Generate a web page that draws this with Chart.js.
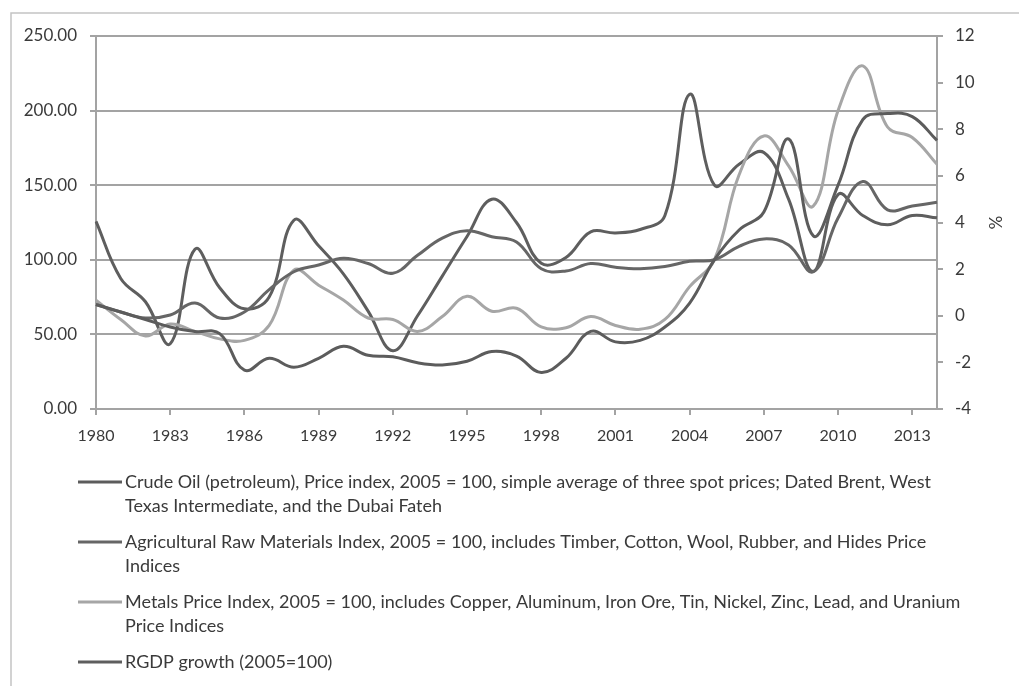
<!DOCTYPE html>
<html>
<head>
<meta charset="utf-8">
<title>Commodity price indices and RGDP growth, 1980-2014</title>
<script src="https://cdn.jsdelivr.net/npm/chart.js@4.4.1/dist/chart.umd.min.js"></script>
<style>
  html, body { margin: 0; padding: 0; background: #ffffff; }
  canvas { display: block; }
</style>
</head>
<body>
<canvas id="chart" width="1019" height="686"></canvas>
<script>
// Years on the category axis
const years = [
  '1980','1981','1982','1983','1984','1985','1986','1987','1988','1989',
  '1990','1991','1992','1993','1994','1995','1996','1997','1998','1999',
  '2000','2001','2002','2003','2004','2005','2006','2007','2008','2009',
  '2010','2011','2012','2013','2014'
];

// Price indices, 2005 = 100 (left axis)
const crudeOil = [
  70, 65, 60, 55, 52, 50.5, 26, 34, 28, 34,
  42, 36, 35, 31, 29.5, 32, 38.5, 35.5, 24.5, 34,
  52, 45, 46, 55, 71, 100, 120, 132, 181, 116,
  150, 194, 198, 196, 180
];
const agriRawMaterials = [
  70, 65, 61, 63, 71, 61, 65, 80, 92, 96.5,
  101, 97.5, 91, 103, 114.5, 119.5, 115.5, 112, 94, 92.5,
  97.5, 95, 94, 95.5, 99, 100, 109, 114, 110, 92,
  128, 152.5, 133.5, 136, 138.5
];
const metals = [
  73, 60, 49, 57, 52, 47, 46, 56, 93, 83,
  73, 61, 60, 52, 62, 75.5, 65.5, 67.5, 55, 54.5,
  62, 56, 53.5, 60, 82, 100, 157, 183, 163, 136,
  200, 230, 189, 182, 164
];

// Real GDP growth, % (right axis)
const rgdpGrowth = [
  4.05, 1.6, 0.6, -1.2, 2.85, 1.2, 0.3, 0.8, 4.1, 3.0,
  1.8, 0.2, -1.5, 0.0, 1.7, 3.4, 5.0, 4.0, 2.25, 2.5,
  3.6, 3.55, 3.7, 4.3, 9.5, 5.6, 6.5, 7.0, 5.0, 1.9,
  5.2, 4.3, 3.9, 4.3, 4.2
];

// Axis ranges and tick steps
const leftAxisRange = [0, 250, 50];
const rightAxisRange = [-4, 12, 2];
const yearLabelEvery = 3;

// Series names, split into the lines shown in the legend
const seriesLabels = [
  ['Crude Oil (petroleum), Price index, 2005 = 100, simple average of three spot prices; Dated Brent, West',
   'Texas Intermediate, and the Dubai Fateh'],
  ['Agricultural Raw Materials Index, 2005 = 100, includes Timber, Cotton, Wool, Rubber, and Hides Price',
   'Indices'],
  ['Metals Price Index, 2005 = 100, includes Copper, Aluminum, Iron Ore, Tin, Nickel, Zinc, Lead, and Uranium',
   'Price Indices'],
  ['RGDP growth (2005=100)']
];

const FONT = "Lato, 'Open Sans', 'Liberation Sans', sans-serif";
const TEXT = '#3a3a3a';
const AXIS = '#a3a3a3';

// White background and the outer frame of the chart area
const framePlugin = {
  id: 'frame',
  beforeDraw(chart) {
    const ctx = chart.ctx;
    ctx.save();
    ctx.fillStyle = '#ffffff';
    ctx.fillRect(0, 0, chart.width, chart.height);
    ctx.strokeStyle = '#c4c4c4';
    ctx.lineWidth = 1.5;
    ctx.strokeRect(11, 13, chart.width + 40, chart.height + 40);
    ctx.restore();
  }
};

// Legend below the plot: line swatch plus multi-line series name
const lineLegendPlugin = {
  id: 'lineLegend',
  afterDraw(chart, args, opts) {
    const ctx = chart.ctx;
    ctx.save();
    ctx.font = opts.fontSize + 'px ' + FONT;
    ctx.textBaseline = 'middle';
    ctx.textAlign = 'left';
    let y = opts.top;
    chart.data.datasets.forEach(ds => {
      const lines = Array.isArray(ds.label) ? ds.label : [ds.label];
      ctx.strokeStyle = ds.borderColor;
      ctx.lineWidth = 3;
      ctx.beginPath();
      ctx.moveTo(opts.swatchLeft, y);
      ctx.lineTo(opts.swatchRight, y);
      ctx.stroke();
      ctx.fillStyle = TEXT;
      lines.forEach((ln, i) => {
        ctx.fillText(ln, opts.textLeft, y + i * opts.lineHeight);
      });
      y += lines.length * opts.lineHeight + opts.itemGap;
    });
    ctx.restore();
  }
};

function lineSeries(label, data, color, axis) {
  return {
    label, data,
    yAxisID: axis,
    borderColor: color,
    backgroundColor: color,
    borderWidth: 3,
    pointRadius: 0,
    pointHoverRadius: 0,
    tension: 0.4,
    fill: false
  };
}

new Chart(document.getElementById('chart'), {
  type: 'line',
  data: {
    labels: years,
    datasets: [
      lineSeries(seriesLabels[0], crudeOil, '#5c5c5c', 'yLeft'),
      lineSeries(seriesLabels[1], agriRawMaterials, '#666666', 'yLeft'),
      lineSeries(seriesLabels[2], metals, '#a6a6a6', 'yLeft'),
      lineSeries(seriesLabels[3], rgdpGrowth, '#5e5e5e', 'yRight')
    ]
  },
  options: {
    responsive: false,
    devicePixelRatio: 1,
    animation: false,
    events: [],
    layout: { padding: { top: 36, left: 0, right: 0, bottom: 237 } },
    plugins: {
      legend: { display: false },
      tooltip: { enabled: false },
      lineLegend: {
        top: 482, lineHeight: 24, itemGap: 12,
        swatchLeft: 78, swatchRight: 122, textLeft: 125,
        fontSize: 18
      }
    },
    scales: {
      x: {
        type: 'category',
        offset: false,
        afterFit(scale) { scale.height = 40; },
        border: { display: true, color: AXIS, width: 2 },
        grid: {
          drawOnChartArea: false,
          drawTicks: true,
          tickLength: 6,
          lineWidth: 2,
          tickColor: ctx => (ctx.index % yearLabelEvery === 0 ? AXIS : 'rgba(0,0,0,0)')
        },
        ticks: {
          autoSkip: false,
          maxRotation: 0,
          minRotation: 0,
          padding: 11,
          color: TEXT,
          font: { family: FONT, size: 16 },
          callback(value, index) {
            return index % yearLabelEvery === 0 ? this.getLabelForValue(value) : '';
          }
        }
      },
      yLeft: {
        type: 'linear',
        position: 'left',
        min: leftAxisRange[0],
        max: leftAxisRange[1],
        afterFit(scale) { scale.width = 96; },
        border: { display: true, color: AXIS, width: 2 },
        grid: { color: AXIS, lineWidth: 2, drawTicks: true, tickLength: 6 },
        ticks: {
          stepSize: leftAxisRange[2],
          padding: 13,
          color: TEXT,
          font: { family: FONT, size: 17 },
          callback: v => v.toFixed(2)
        }
      },
      yRight: {
        type: 'linear',
        position: 'right',
        min: rightAxisRange[0],
        max: rightAxisRange[1],
        afterFit(scale) { scale.width = 82; },
        border: { display: true, color: AXIS, width: 2 },
        grid: { drawOnChartArea: false, drawTicks: true, tickLength: 6, color: AXIS, lineWidth: 2 },
        ticks: {
          stepSize: rightAxisRange[2],
          padding: 12,
          color: TEXT,
          font: { family: FONT, size: 17 }
        },
        title: {
          display: true,
          text: '%',
          color: TEXT,
          font: { family: FONT, size: 17 },
          padding: { top: 14, bottom: 0 }
        }
      }
    }
  },
  plugins: [framePlugin, lineLegendPlugin]
});
</script>
</body>
</html>
